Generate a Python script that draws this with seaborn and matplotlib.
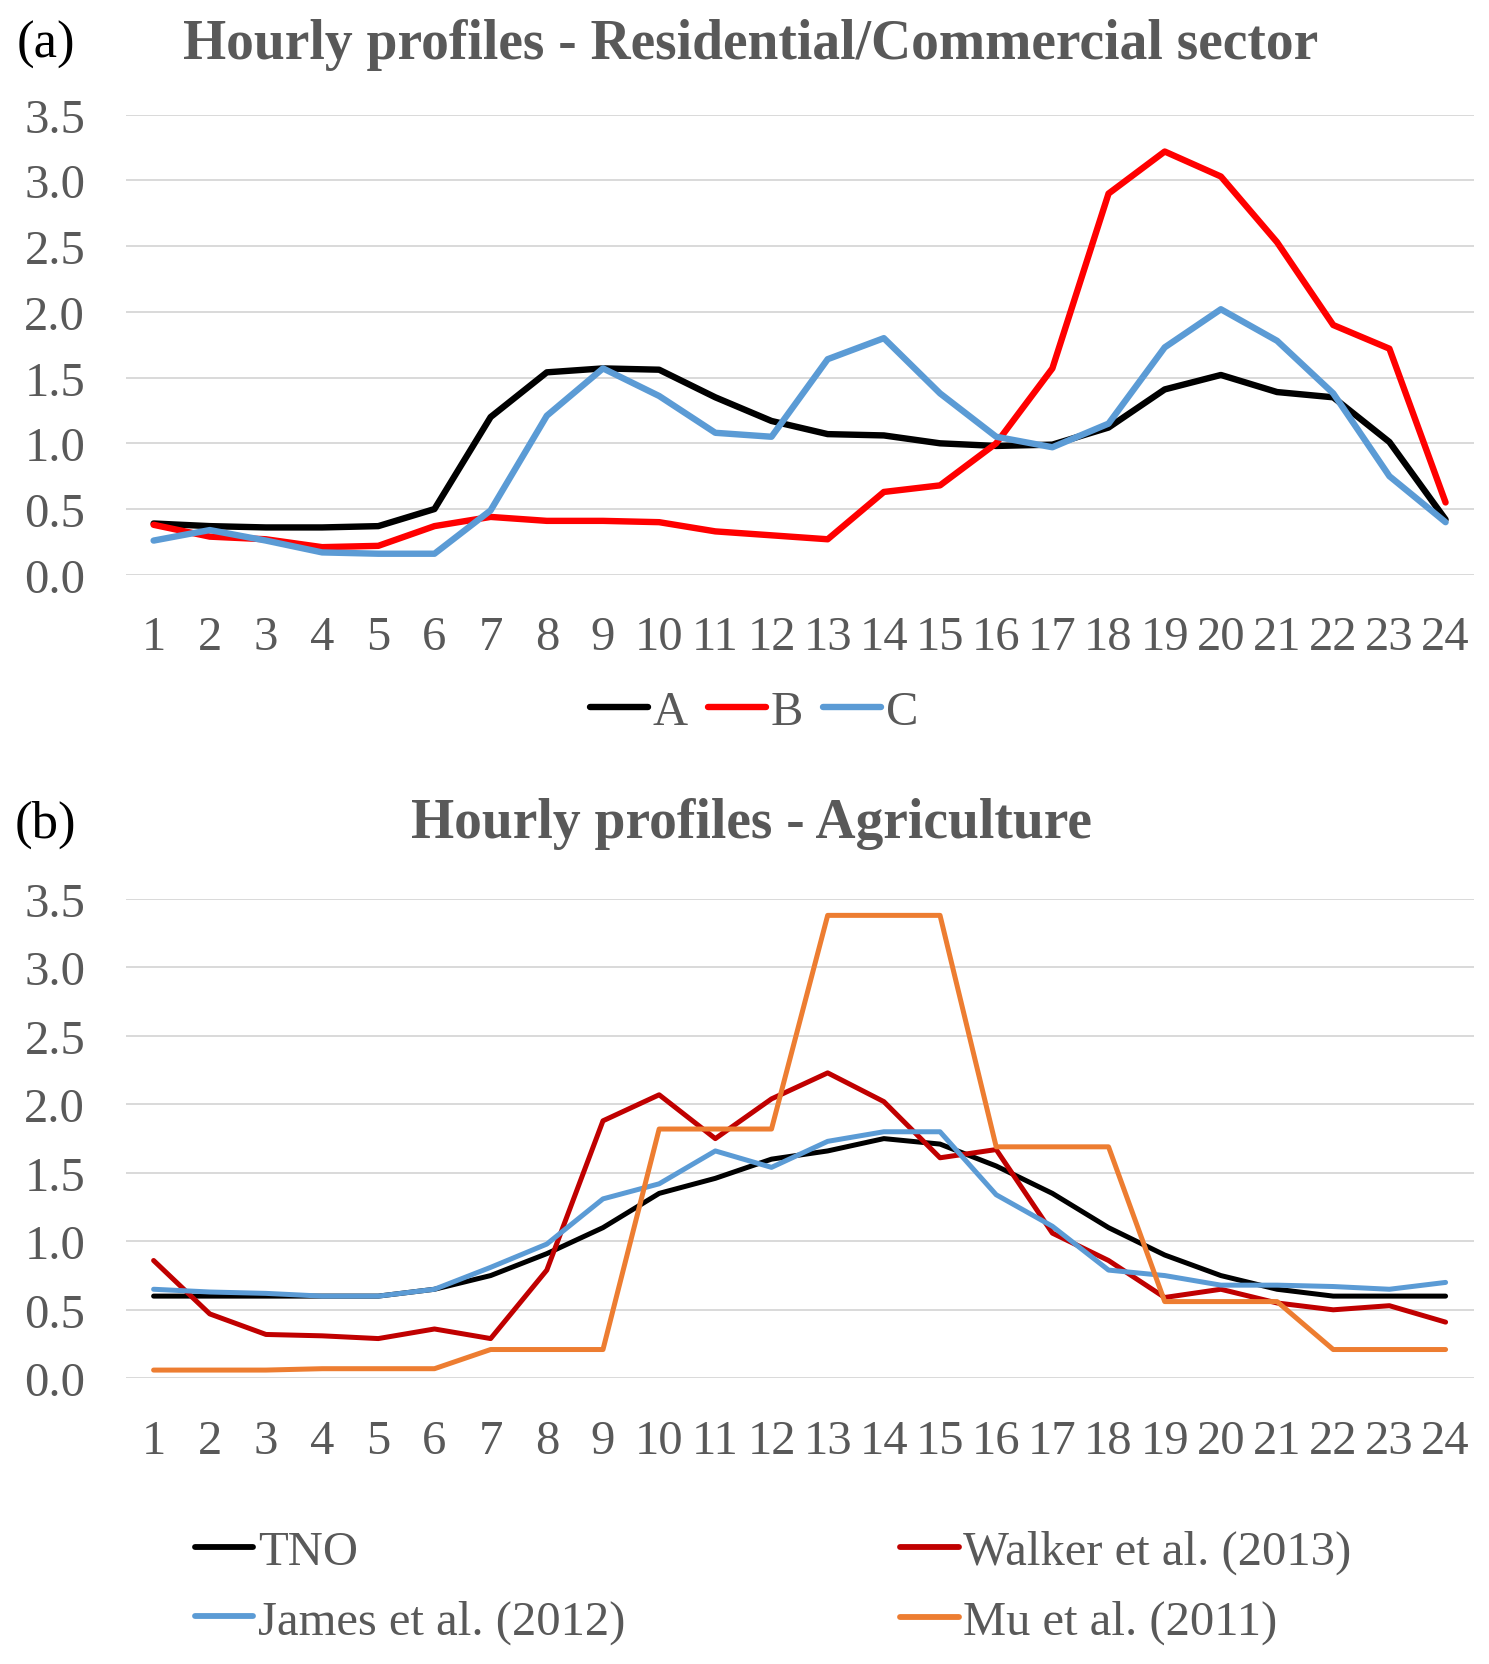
import numpy as np
import pandas as pd
import matplotlib
matplotlib.use("Agg")
import matplotlib.pyplot as plt
import seaborn as sns

# ── Data ───────────────────────────────────────────────────────
HOURS = list(range(1, 25))

RES_A = [0.39, 0.37, 0.36, 0.36, 0.37, 0.50, 1.20, 1.54, 1.57, 1.56, 1.35, 1.17,
         1.07, 1.06, 1.00, 0.98, 0.99, 1.12, 1.41, 1.52, 1.39, 1.35, 1.01, 0.42]
RES_B = [0.38, 0.29, 0.27, 0.21, 0.22, 0.37, 0.44, 0.41, 0.41, 0.40, 0.33, 0.30,
         0.27, 0.63, 0.68, 1.00, 1.57, 2.90, 3.22, 3.03, 2.53, 1.90, 1.72, 0.55]
RES_C = [0.26, 0.34, 0.26, 0.17, 0.16, 0.16, 0.49, 1.21, 1.57, 1.36, 1.08, 1.05,
         1.64, 1.80, 1.38, 1.05, 0.97, 1.15, 1.73, 2.02, 1.78, 1.38, 0.75, 0.40]

AGR_TNO = [0.60, 0.60, 0.60, 0.60, 0.60, 0.65, 0.75, 0.91, 1.10, 1.35, 1.46, 1.60,
           1.66, 1.75, 1.71, 1.55, 1.35, 1.10, 0.90, 0.75, 0.65, 0.60, 0.60, 0.60]
AGR_WALKER = [0.86, 0.47, 0.32, 0.31, 0.29, 0.36, 0.29, 0.79, 1.88, 2.07, 1.75, 2.04,
              2.23, 2.02, 1.61, 1.67, 1.06, 0.86, 0.59, 0.65, 0.55, 0.50, 0.53, 0.41]
AGR_JAMES = [0.65, 0.63, 0.62, 0.60, 0.60, 0.65, 0.81, 0.98, 1.31, 1.42, 1.66, 1.54,
             1.73, 1.80, 1.80, 1.34, 1.11, 0.79, 0.75, 0.68, 0.68, 0.67, 0.65, 0.70]
AGR_MU = [0.06, 0.06, 0.06, 0.07, 0.07, 0.07, 0.21, 0.21, 0.21, 1.82, 1.82, 1.82,
          3.38, 3.38, 3.38, 1.69, 1.69, 1.69, 0.56, 0.56, 0.56, 0.21, 0.21, 0.21]

RES_SERIES = {"A": RES_A, "B": RES_B, "C": RES_C}
AGR_SERIES = {"TNO": AGR_TNO, "Walker et al. (2013)": AGR_WALKER,
              "James et al. (2012)": AGR_JAMES, "Mu et al. (2011)": AGR_MU}

RES_COLORS = {"A": "#000000", "B": "#FF0000", "C": "#5B9BD5"}
AGR_COLORS = {"TNO": "#000000", "Walker et al. (2013)": "#C00000",
              "James et al. (2012)": "#5B9BD5", "Mu et al. (2011)": "#ED7D31"}

YTICKS = [0.0, 0.5, 1.0, 1.5, 2.0, 2.5, 3.0, 3.5]

# ── Style ──────────────────────────────────────────────────────
sns.set_theme(style="white")
plt.rcParams["font.family"] = ["Liberation Serif", "DejaVu Serif"]
GREY = "#595959"
TICK_FS = 35
W, H = 1489, 1665


def long_form(series):
    rows = []
    for name, vals in series.items():
        for h, v in zip(HOURS, vals):
            rows.append({"hour": h, "value": v, "series": name})
    return pd.DataFrame(rows)


def style_axes(ax):
    ax.set_xlim(0.5, 24.5)
    ax.set_ylim(0, 3.5)
    ax.set_xticks(HOURS)
    ax.set_yticks(YTICKS)
    ax.set_yticklabels([f"{t:.1f}" for t in YTICKS])
    ax.set_xlabel("")
    ax.set_ylabel("")
    ax.yaxis.grid(True, color="#D9D9D9", linewidth=1.4)
    ax.xaxis.grid(False)
    ax.set_axisbelow(True)
    for s in ax.spines.values():
        s.set_visible(False)
    ax.tick_params(axis="both", length=0, labelsize=TICK_FS, labelcolor=GREY)
    ax.tick_params(axis="x", pad=29)
    ax.tick_params(axis="y", pad=29)


fig = plt.figure(figsize=(W / 100, H / 100), dpi=100)

# (a) Residential / commercial
ax1 = fig.add_axes([0.0843, 0.6542, 0.9054, 0.2763])
sns.lineplot(data=long_form(RES_SERIES), x="hour", y="value", hue="series",
             hue_order=list(RES_SERIES), palette=RES_COLORS, linewidth=4.6,
             ax=ax1)
style_axes(ax1)
sns.move_legend(ax1, "center", bbox_to_anchor=(0.5064, 1 - 713 / H),
                bbox_transform=fig.transFigure, ncol=3, frameon=False,
                title=None, fontsize=TICK_FS, labelcolor=GREY,
                handlelength=1.2, handletextpad=0.1, columnspacing=0.4,
                borderpad=0)

# (b) Agriculture
ax2 = fig.add_axes([0.0843, 0.1716, 0.9054, 0.2879])
sns.lineplot(data=long_form(AGR_SERIES), x="hour", y="value", hue="series",
             hue_order=list(AGR_SERIES), palette=AGR_COLORS, linewidth=3.6,
             ax=ax2)
style_axes(ax2)
leg = ax2.get_legend()
handles = list(leg.legend_handles)
for hnd in handles:
    hnd.set_linewidth(4.2)
labels = [t.get_text() for t in leg.get_texts()]
order = [0, 2, 1, 3]
leg.remove()
ax2.legend([handles[i] for i in order], [labels[i] for i in order],
           loc="center left", bbox_to_anchor=(195 / W, 1 - 1588 / H),
           bbox_transform=fig.transFigure, ncol=2, frameon=False,
           fontsize=TICK_FS, labelcolor=GREY, handlelength=1.2,
           handletextpad=0.1, columnspacing=5.65, labelspacing=0.52,
           borderpad=0, borderaxespad=0)

# Titles and panel labels
fig.text(751 / W, 1 - 59 / H, "Hourly profiles - Residential/Commercial sector",
         ha="center", va="baseline", fontsize=40, fontweight="bold", color=GREY)
fig.text(751 / W, 1 - 838 / H, "Hourly profiles - Agriculture",
         ha="center", va="baseline", fontsize=40, fontweight="bold", color=GREY)
fig.text(17 / W, 1 - 58 / H, "(a)", ha="left", va="baseline", fontsize=38,
         color="black")
fig.text(15 / W, 1 - 838 / H, "(b)", ha="left", va="baseline", fontsize=38,
         color="black")

fig.savefig("out.png", dpi=100)
plt.close(fig)
